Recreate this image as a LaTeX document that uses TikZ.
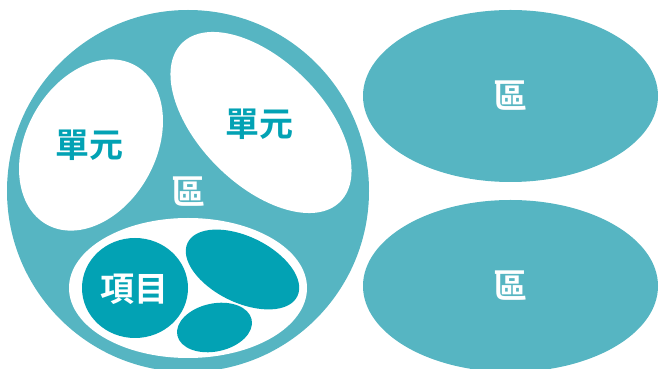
\documentclass[tikz,border=0pt]{standalone}
\usepackage{fontspec}
\newfontfamily\cjk{Noto Sans CJK TC}[BoldFont={* Bold}]
\usetikzlibrary{shapes.geometric}
\definecolor{lightteal}{RGB}{86,181,194}
\definecolor{darkteal}{RGB}{2,162,180}
\tikzset{
  blob/.style={ellipse, inner sep=0pt, draw=none},
  lbl/.style={font=\cjk\bfseries\fontsize{34}{34}\selectfont, inner sep=0pt},
}
\begin{document}
\begin{tikzpicture}[x=1pt,y=1pt]
\useasboundingbox (0,0) rectangle (664,369);
\clip (0,0) rectangle (664,369);
% outer shapes
\node[blob, fill=lightteal, minimum width=362, minimum height=362] (big) at (188,178) {};
\node[blob, fill=lightteal, minimum width=295, minimum height=172] (rtop) at (510.5,273) {};
\node[blob, fill=lightteal, minimum width=295, minimum height=172] (rbot) at (510.5,83) {};
% white units
\node[blob, fill=white, minimum width=182, minimum height=130, rotate=61] (uleft) at (91,224) {};
\node[blob, fill=white, minimum width=224, minimum height=124, rotate=-45] (uright) at (261,246.5) {};
\node[blob, fill=white, minimum width=238, minimum height=140] (uinner) at (188,81) {};
% items
\node[blob, fill=darkteal, minimum width=106, minimum height=100] (item) at (135,81) {};
\node[blob, fill=darkteal, minimum width=122, minimum height=66, rotate=-26] (itemb) at (242.5,99.5) {};
\node[blob, fill=darkteal, minimum width=76, minimum height=48, rotate=12] (itemc) at (214.5,41.5) {};
% labels
\node[lbl, text=darkteal] (tleft) at (89.5,224) {單元};
\node[lbl, text=darkteal] (tright) at (259,245) {單元};
\node[lbl, text=white] (tmid) at (188.5,177.5) {區};
\node[lbl, text=white] (ttop) at (510.5,273) {區};
\node[lbl, text=white] (tbot) at (510.5,83) {區};
\node[lbl, text=white] (titem) at (134,80) {項目};
\end{tikzpicture}
\end{document}
